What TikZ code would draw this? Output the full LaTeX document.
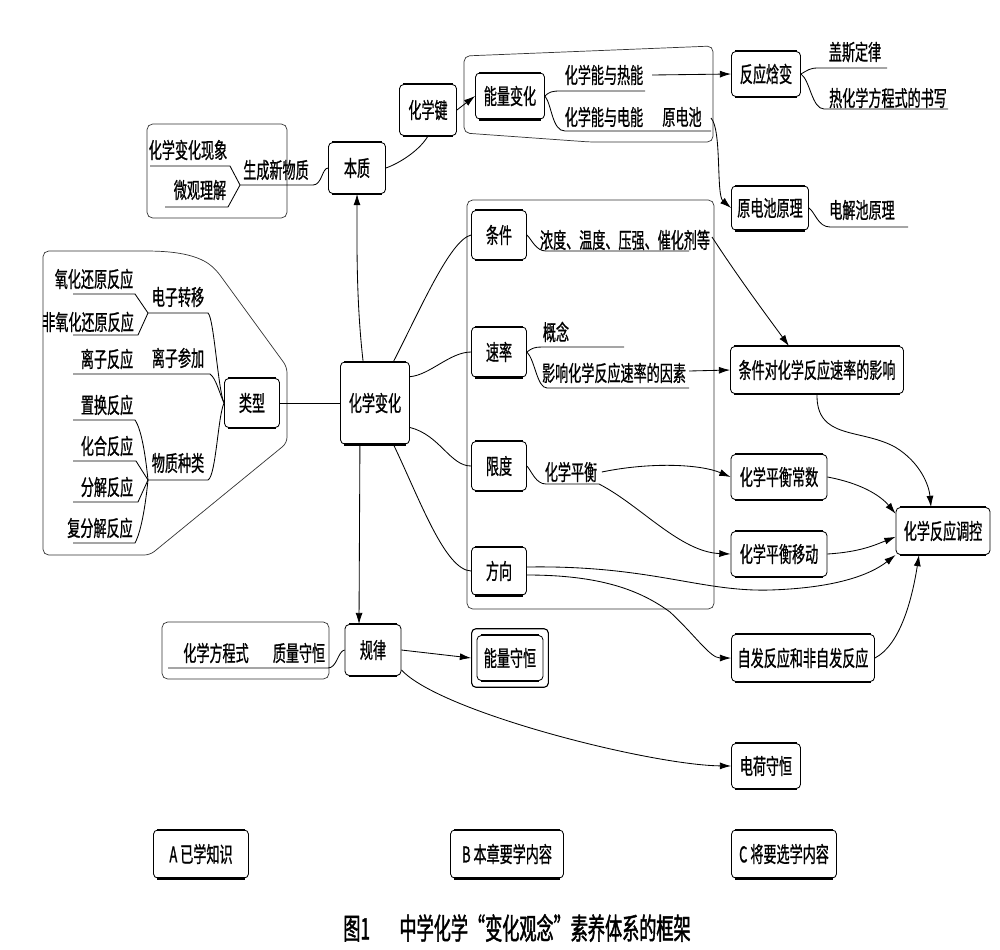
\documentclass[tikz,border=0pt]{standalone}
\usepackage{fontspec}
\setmainfont{Noto Sans CJK SC}[FakeStretch=0.6, FakeBold=0.8]
\newfontfamily\capfont{Noto Sans CJK SC}[FakeStretch=0.58, FakeBold=1.4]
\usetikzlibrary{arrows.meta,fit,calc}
\newcommand\mfs{\fontsize{15.5}{17}\selectfont}
\newcommand\capfs{\capfont\fontsize{21}{23}\selectfont}
\begin{document}
\begin{tikzpicture}[x=0.025cm,y=-0.025cm, font=\mfs, line width=0.6pt,
 bx/.style={draw, rounded corners=3pt, line width=0.6pt, inner sep=1pt, align=center,
   append after command={(\tikzlastnode.north west) edge[line width=1.5pt, shorten <=3pt, shorten >=3pt, -] (\tikzlastnode.north east)
   (\tikzlastnode.south west) edge[line width=1.6pt, shorten <=3pt, shorten >=3pt, -] (\tikzlastnode.south east)}},
 sz/.style 2 args={minimum width=#1*0.025cm, minimum height=#2*0.025cm},
 tx/.style={inner sep=0pt},
 grp/.style={draw=black!80, line width=0.5pt, rounded corners=4pt},
 arr/.style={-{Latex[length=8pt,width=5pt]}, line width=0.6pt},
]
\useasboundingbox (0,0) rectangle (1000,949);

% group outlines
\draw[grp] (147,124) rectangle (287,218);
\draw[grp] (464,56) -- (713,46) -- (713,142) -- (590,142) -- (464,133) -- cycle;
\draw[grp] (467,200) rectangle (714,609);
\draw[grp] (43,251) -- (150,251) .. controls (185,252) and (203,258) .. (217,271) -- (287,367) -- (287,443) -- (150,555) -- (43,555) -- cycle;
\draw[grp] (162,622) rectangle (329,679);

% boxed nodes
\node[bx,sz={57}{51}] (hxj) at (428,110) {化学键};
\node[bx,sz={57}{51}] (bz) at (357,168) {本质};
\node[bx,sz={69}{46}] (nlbh) at (510,96) {能量变化};
\node[bx,sz={69}{45}] (fyhb) at (766,74) {反应焓变};
\node[bx,sz={77}{44}] (ydcyl) at (770,208) {原电池原理};
\node[bx,sz={55}{49}] (lx) at (252,403) {类型};
\node[bx,sz={69}{82}] (hxbh) at (375,403) {化学变化};
\node[bx,sz={55}{49}] (tj) at (499,235) {条件};
\node[bx,sz={55}{50}] (sl) at (499,352) {速率};
\node[bx,sz={55}{49}] (xd) at (499,466) {限度};
\node[bx,sz={55}{48}] (fx) at (499,571) {方向};
\node[bx,sz={173}{47}] (tjd) at (817,370) {条件对化学反应速率的影响};
\node[bx,sz={96}{45}] (phcs) at (779,477) {化学平衡常数};
\node[bx,sz={96}{45}] (phyd) at (779,554) {化学平衡移动};
\node[bx,sz={94}{47}] (tk) at (943,531) {化学反应调控};
\node[bx,sz={143}{47}] (zf) at (803,658) {自发反应和非自发反应};
\node[bx,sz={69}{45}] (dh) at (766,766) {电荷守恒};
\node[bx,sz={56}{51}] (gl) at (373,650) {规律};
\node[bx,sz={66}{45}] (nlsh) at (510,658) {能量守恒};
\node[draw, rounded corners=3pt, line width=0.8pt, fit=(nlsh), inner xsep=3.5pt, inner ysep=4.5pt] (nlsho) {};
\node[bx,sz={95}{48}] (la) at (201,854) {A 已学知识};
\node[bx,sz={113}{48}] (lb) at (507,854) {B 本章要学内容};
\node[bx,sz={105}{48}] (lc) at (784,854) {C 将要选学内容};
\node[tx,font=\capfs] (cap) at (517,928) {图1\quad 中学化学“变化观念”素养体系的框架};

% plain texts
\node[tx] (t1) at (188,150) {化学变化现象};
\node[tx] (t2) at (200,190) {微观理解};
\node[tx] (t3) at (276,170) {生成新物质};
\node[tx] (e1) at (604,75) {化学能与热能};
\node[tx] (e2) at (604,117) {化学能与电能};
\node[tx] (e3) at (682,117) {原电池};
\node[tx] (g1) at (855,52) {盖斯定律};
\node[tx] (g2) at (888,98) {热化学方程式的书写};
\node[tx] (d1) at (862,210) {电解池原理};
\node[tx] (c1) at (625,240) {浓度、温度、压强、催化剂等};
\node[tx] (r1) at (556,332) {概念};
\node[tx] (r2) at (614,373) {影响化学反应速率的因素};
\node[tx] (p1) at (571,472) {化学平衡};
\node[tx] (y1) at (94,279) {氧化还原反应};
\node[tx] (y2) at (88,322) {非氧化还原反应};
\node[tx] (y3) at (178,297) {电子转移};
\node[tx] (y4) at (107,359) {离子反应};
\node[tx] (y5) at (178,358) {离子参加};
\node[tx] (y6) at (107,405) {置换反应};
\node[tx] (y7) at (107,446) {化合反应};
\node[tx] (y8) at (107,487) {分解反应};
\node[tx] (y9) at (100,528) {复分解反应};
\node[tx] (y10) at (178,463) {物质种类};
\node[tx] (k1) at (216,653) {化学方程式};
\node[tx] (k2) at (299,653) {质量守恒};

% top-left cluster
\coordinate (ap1) at (240,185);
\draw (150,166) -- (230,166) -- (ap1) -- (228,207) -- (165,207);
\draw (ap1) -- (313,185) .. controls (322,185) and (322,168) .. (bz.west);
\draw (bz.east) .. controls (400,163) and (420,150) .. (hxj.south);
\draw[arr] (hxj.east) -- (nlbh.west);

% energy cluster
\draw (nlbh.east) .. controls (549,92) and (552,91) .. (560,91) -- (645,91);
\draw (nlbh.east) .. controls (552,105) and (552,131) .. (565,131) -- (711,131);
\draw[arr] ([xshift=6pt]e1.east) -- (fyhb.west);
\draw[arr] (711,118) .. controls (722,130) and (716,195) .. (ydcyl.west);
\draw (fyhb.east) .. controls (808,70) and (810,68) .. (818,68) -- (887,68);
\draw (fyhb.east) .. controls (810,80) and (812,109) .. (824,109) -- (948,109);
\draw (ydcyl.east) .. controls (815,212) and (818,227) .. (830,227) -- (908,227);

% condition group
\draw (tj.east) .. controls (532,240) and (536,251) .. (546,251) -- (689,251);
\draw[arr] (712,237) .. controls (740,280) and (770,320) .. ($(tjd.north)+(-28,0)$);
\draw (sl.east) .. controls (532,348) and (535,347) .. (542,347) -- (624,347);
\draw (sl.east) .. controls (535,360) and (537,388) .. (547,388) -- (689,388);
\draw[arr] (689,371) -- (tjd.west);
\draw[arr] (tjd.south) .. controls (816,440) and (860,428) .. (895,447) .. controls (920,462) and (929,485) .. ($(tk.north)+(-12,0)$);
\draw (xd.east) .. controls (532,472) and (536,484) .. (546,484) -- (599,484);
\draw[arr] ([xshift=3pt]p1.east) .. controls (650,462) and (700,464) .. (phcs.west);
\draw[arr] (599,484) .. controls (640,505) and (680,552) .. (phyd.west);
\draw[arr] (phcs.east) .. controls (860,483) and (880,495) .. (tk.160);
\draw[arr] (phyd.east) .. controls (860,552) and (875,545) .. (tk.187);
\draw[arr] ($(fx.east)+(0,-4)$) .. controls (650,565) and (700,592) .. (770,590) .. controls (835,588) and (870,575) .. (tk.south west);
\draw[arr] ($(fx.east)+(0,4)$) .. controls (600,575) and (640,590) .. (670,612) .. controls (695,635) and (710,658) .. (zf.west);
\draw[arr] (zf.east) .. controls (900,645) and (912,600) .. ($(tk.south)+(-24,0)$);

% from chemical change
\draw (hxbh.west) -- (lx.east);
\draw[arr] (hxbh.106) .. controls (356,300) and (357,240) .. (bz.south);
\draw[arr] (hxbh.-110) -- ($(gl.north)+(-14,0)$);
\draw (hxbh.66) .. controls (420,310) and (450,240) .. (tj.west);
\draw (hxbh.37) .. controls (430,375) and (450,352) .. (sl.west);
\draw (hxbh.-35) .. controls (440,435) and (450,466) .. (xd.west);
\draw (hxbh.-66) .. controls (420,500) and (445,570) .. (fx.west);

% types
\coordinate (ap2) at (148,313);
\coordinate (ap3) at (148,480);
\draw (73,294) -- (135,294) -- (ap2) -- (138,335) -- (73,335);
\draw (ap2) -- (208,313) .. controls (214,318) and (218,390) .. (lx.west);
\draw (73,374) -- (210,374) .. controls (216,378) and (220,395) .. (lx.west);
\draw (73,420) -- (135,420) .. controls (142,430) and (146,460) .. (ap3);
\draw (73,461) -- (136,461) -- (ap3);
\draw (73,502) -- (138,502) -- (ap3);
\draw (73,543) -- (135,543) .. controls (142,530) and (146,500) .. (ap3);
\draw (ap3) -- (208,480) .. controls (216,476) and (218,415) .. (lx.west);

% rule
\draw (168,668) -- (328,668) .. controls (337,668) and (338,651) .. (gl.west);
\draw[arr] (gl.east) -- (nlsho.west);
\draw[arr] (gl.-35) .. controls (440,712) and (650,765) .. (dh.west);
\end{tikzpicture}
\end{document}
